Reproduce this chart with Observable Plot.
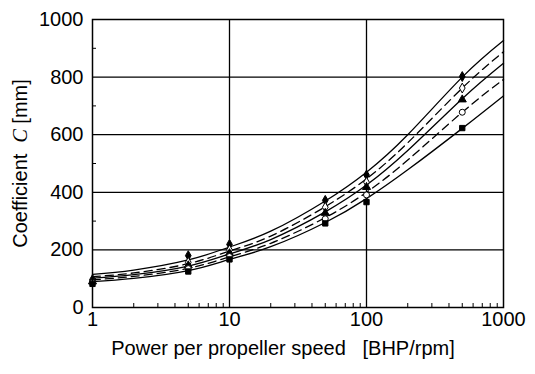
<!DOCTYPE html>
<html>
<head>
<meta charset="utf-8">
<script src="https://cdn.jsdelivr.net/npm/d3@7"></script>
<script src="https://cdn.jsdelivr.net/npm/@observablehq/plot@0.6"></script>
<style>
  html, body { margin: 0; padding: 0; background: white; }
  #chart svg { display: block; }
</style>
</head>
<body>
<div id="chart"></div>
<script>
// Curve sample points
const curveX = [1, 2, 5, 10, 20, 50, 100, 200, 500, 1000];
const curveTopSolid    = [115, 130, 165, 210, 265, 370, 470, 600, 800, 927];
const curveDash1       = [107, 120, 152, 196, 248, 350, 447, 572, 762, 888];
const curveMidSolid    = [102, 114, 144, 186, 236, 332, 425, 545, 725, 848];
const curveDash2       = [96, 108, 136, 176, 223, 312, 400, 512, 678, 792];
const curveBottomSolid = [90, 101, 128, 167, 211, 295, 378, 478, 622, 735];

// Measured points
const markerX = [1, 5, 10, 50, 100, 500];
const pointsA = [97, 180, 219, 372, 460, 802]; // filled diamond
const pointsB = [93, 157, 200, 348, 435, 762]; // open diamond
const pointsC = [90, 146, 188, 328, 418, 722]; // filled triangle
const pointsD = [86, 135, 177, 308, 391, 678]; // open circle
const pointsE = [82, 125, 167, 292, 366, 623]; // filled square

const xTicks = [1, 10, 100, 1000];
const yTicks = [0, 200, 400, 600, 800, 1000];
const yGrid = [200, 400, 600, 800];
const xGrid = [10, 100];
const xMinor = [2,3,4,5,6,7,8,9,20,30,40,50,60,70,80,90,200,300,400,500,600,700,800,900];
const yMinor = [100, 300, 500, 700, 900];
const xTitle = "Power per propeller speed\u00a0\u00a0\u00a0[BHP/rpm]";
const yTitle = ["Coefficient\u00a0\u00a0", "C", "\u00a0[mm]"];

const curves = [
  {y: curveTopSolid, dash: null},
  {y: curveDash1, dash: "8,5"},
  {y: curveMidSolid, dash: null},
  {y: curveDash2, dash: "8,5"},
  {y: curveBottomSolid, dash: null}
];
const pointSets = [
  {y: pointsA, symbol: "diamond", fill: "black"},
  {y: pointsB, symbol: "diamond", fill: "white"},
  {y: pointsC, symbol: "triangle", fill: "black"},
  {y: pointsD, symbol: "circle", fill: "white"},
  {y: pointsE, symbol: "square", fill: "black"}
];

const marks = [];
marks.push(Plot.ruleY(yGrid, {stroke: "black", strokeWidth: 1.3}));
marks.push(Plot.ruleX(xGrid, {stroke: "black", strokeWidth: 1.3}));
marks.push(Plot.axisX(xMinor, {tickSize: -4, tickFormat: () => "", strokeWidth: 1, label: null}));
marks.push(Plot.axisY(yMinor, {tickSize: -4, tickFormat: () => "", strokeWidth: 1, label: null}));
marks.push(Plot.axisX({ticks: xTicks, tickSize: 0, tickPadding: 4, tickFormat: d => String(d), label: null}));
marks.push(Plot.axisY({ticks: yTicks, tickSize: 0, tickPadding: 9, tickFormat: d => String(d), label: null}));
for (const c of curves) {
  const data = curveX.map((x, i) => ({x, y: c.y[i]}));
  marks.push(Plot.line(data, {x: "x", y: "y", curve: "natural", stroke: "black", strokeWidth: 1.3, strokeDasharray: c.dash}));
}
for (const p of pointSets) {
  const data = markerX.map((x, i) => ({x, y: p.y[i]}));
  marks.push(Plot.dot(data, {x: "x", y: "y", symbol: p.symbol, fill: p.fill, stroke: "black", strokeWidth: 1, r: 3}));
}
marks.push(Plot.frame({stroke: "black", strokeWidth: 1.5}));
marks.push(Plot.text([xTitle], {frameAnchor: "bottom", dy: 47, dx: -15, text: d => d, fontSize: 20, fill: "black"}));
marks.push(Plot.text([yTitle.join("")], {frameAnchor: "left", textAnchor: "middle", lineAnchor: "middle", dx: -72, rotate: -90, text: d => d, fontSize: 20, fill: "black", className: "ytitle"}));

const chart = Plot.plot({
  width: 535,
  height: 374,
  marginLeft: 92,
  marginRight: 32,
  marginTop: 19,
  marginBottom: 67,
  style: {fontFamily: "'Liberation Sans', Arial, sans-serif", fontSize: "20px", color: "black", background: "white"},
  x: {type: "log", domain: [1, 1000]},
  y: {domain: [0, 1000]},
  marks
});

// Italic serif "C" in the y title
d3.select(chart).selectAll("g.ytitle text").each(function() {
  const t = d3.select(this);
  t.text(null);
  t.append("tspan").text(yTitle[0]);
  t.append("tspan").text(yTitle[1]).attr("font-family", "'Liberation Serif', serif").attr("font-style", "italic");
  t.append("tspan").text(yTitle[2]);
});

document.getElementById("chart").appendChild(chart);
</script>
</body>
</html>
